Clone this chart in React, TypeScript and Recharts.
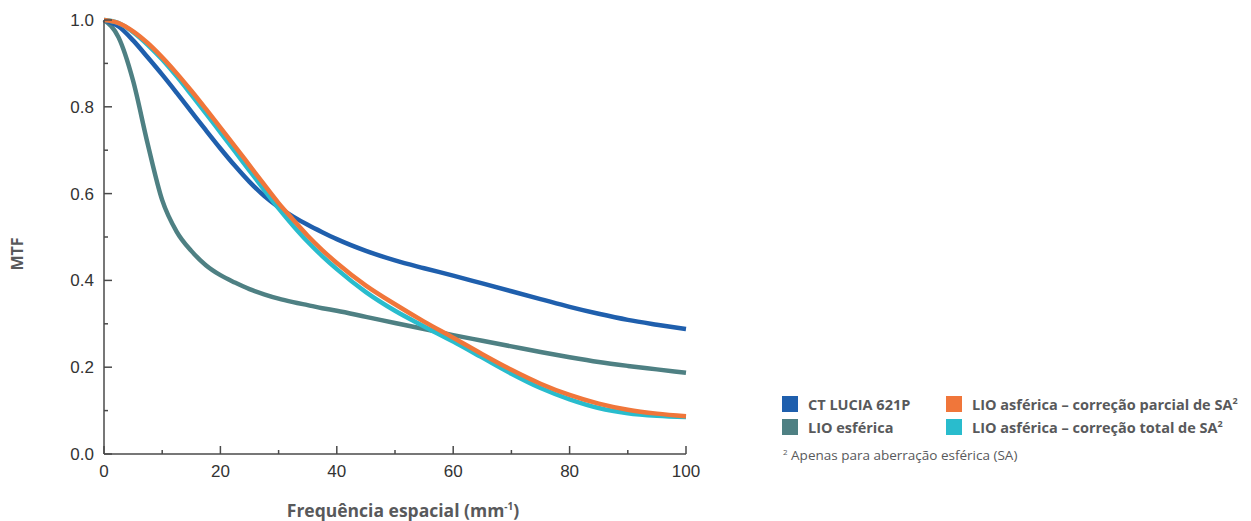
import React from "react";
import { LineChart, Line, XAxis, YAxis } from "recharts";

const freq = [0, 2.5, 5, 7.5, 10, 12.5, 15, 17.5, 20, 22.5, 25, 27.5, 30, 32.5, 35, 37.5, 40, 45, 50, 55, 60, 65, 70, 75, 80, 85, 90, 95, 100];

const ctLucia = [1.0, 0.985, 0.953, 0.914, 0.874, 0.832, 0.789, 0.746, 0.704, 0.664, 0.627, 0.595, 0.569, 0.547, 0.528, 0.511, 0.495, 0.468, 0.446, 0.428, 0.411, 0.393, 0.375, 0.357, 0.339, 0.323, 0.309, 0.298, 0.288];
const lioEsferica = [1.0, 0.96, 0.86, 0.715, 0.585, 0.512, 0.468, 0.435, 0.412, 0.395, 0.38, 0.368, 0.358, 0.35, 0.343, 0.336, 0.33, 0.316, 0.302, 0.288, 0.274, 0.261, 0.248, 0.235, 0.223, 0.212, 0.203, 0.195, 0.187];
const parcialSA = [1.0, 0.993, 0.974, 0.947, 0.914, 0.877, 0.837, 0.795, 0.752, 0.709, 0.665, 0.621, 0.578, 0.54, 0.503, 0.47, 0.44, 0.388, 0.345, 0.305, 0.268, 0.23, 0.194, 0.162, 0.136, 0.116, 0.102, 0.093, 0.087];
const totalSA = [1.0, 0.993, 0.972, 0.943, 0.909, 0.87, 0.828, 0.785, 0.741, 0.697, 0.653, 0.609, 0.566, 0.526, 0.489, 0.456, 0.426, 0.373, 0.33, 0.294, 0.259, 0.222, 0.185, 0.152, 0.126, 0.106, 0.094, 0.088, 0.085];

const xTicks = [0, 10, 20, 30, 40, 50, 60, 70, 80, 90, 100];
const yTicks = [0, 0.1, 0.2, 0.3, 0.4, 0.5, 0.6, 0.7, 0.8, 0.9, 1.0];

const COLORS = {
  ct: "#1f5fad",
  esf: "#4e8083",
  parcial: "#f0763a",
  total: "#29bccd",
  axis: "#4a4a4a",
  tickText: "#333333",
  label: "#58595b",
};

const data = freq.map((x, i) => ({
  x,
  ct: ctLucia[i],
  esf: lioEsferica[i],
  parcial: parcialSA[i],
  total: totalSA[i],
}));

const tickFont = { fontFamily: "'Liberation Sans', Arial, sans-serif", fontSize: 17 };
const labelFont = "'Open Sans', 'Noto Sans', sans-serif";

function XTick(props: any) {
  const { x, y, payload } = props;
  const major = payload.value % 20 === 0;
  return (
    <g>
      <line x1={x} y1={y} x2={x} y2={y - (major ? 8 : 4)} stroke={COLORS.axis} strokeWidth={1.5} />
      {major && (
        <text x={x} y={y + 11} dy="0.71em" textAnchor="middle" fill={COLORS.tickText} style={tickFont}>
          {payload.value}
        </text>
      )}
    </g>
  );
}

function YTick(props: any) {
  const { x, y, payload } = props;
  const major = Math.round(payload.value * 10) % 2 === 0;
  return (
    <g>
      <line x1={x} y1={y} x2={x + (major ? 8 : 4)} y2={y} stroke={COLORS.axis} strokeWidth={1.5} />
      {major && (
        <text x={x - 10} y={y} dy="0.355em" textAnchor="end" fill={COLORS.tickText} style={tickFont}>
          {payload.value.toFixed(1)}
        </text>
      )}
    </g>
  );
}

const legendItems = [
  { color: COLORS.ct, label: "CT LUCIA 621P", sup: false, left: 774, top: 387 },
  { color: COLORS.parcial, label: "LIO asférica – correção parcial de SA", sup: true, left: 938, top: 387 },
  { color: COLORS.esf, label: "LIO esférica", sup: false, left: 774, top: 410 },
  { color: COLORS.total, label: "LIO asférica – correção total de SA", sup: true, left: 938, top: 410 },
];

export default function App() {
  return (
    <div style={{ position: "relative", width: 1235, height: 513 }}>
      <LineChart
        width={1235}
        height={505}
        data={data}
        margin={{ top: 12, right: 557, left: 46, bottom: 29 }}
      >
        <XAxis
          type="number"
          dataKey="x"
          domain={[0, 100]}
          ticks={xTicks}
          interval={0}
          tickLine={false}
          tickSize={0}
          tickMargin={0}
          height={30}
          axisLine={{ stroke: COLORS.axis, strokeWidth: 1.5 }}
          tick={<XTick />}
        />
        <YAxis
          type="number"
          domain={[0, 1]}
          ticks={yTicks}
          interval={0}
          tickLine={false}
          tickSize={0}
          tickMargin={0}
          width={50}
          axisLine={{ stroke: COLORS.axis, strokeWidth: 1.5 }}
          tick={<YTick />}
        />
        <Line type="monotone" dataKey="esf" stroke={COLORS.esf} strokeWidth={4.5} dot={false} isAnimationActive={false} />
        <Line type="monotone" dataKey="ct" stroke={COLORS.ct} strokeWidth={4.5} dot={false} isAnimationActive={false} />
        <Line type="monotone" dataKey="total" stroke={COLORS.total} strokeWidth={4.5} dot={false} isAnimationActive={false} />
        <Line type="monotone" dataKey="parcial" stroke={COLORS.parcial} strokeWidth={4.5} dot={false} isAnimationActive={false} />
      </LineChart>

      {/* axis titles */}
      <div
        style={{
          position: "absolute",
          left: 9,
          top: 246,
          transform: "translate(-50%, -50%) rotate(-90deg)",
          fontFamily: labelFont,
          fontWeight: 700,
          fontSize: 16,
          lineHeight: "20px",
          color: COLORS.label,
          whiteSpace: "nowrap",
        }}
      >
        MTF
      </div>
      <div
        style={{
          position: "absolute",
          left: 395,
          top: 490,
          transform: "translateX(-50%)",
          fontFamily: labelFont,
          fontWeight: 700,
          fontSize: 17.5,
          lineHeight: "24px",
          color: COLORS.label,
          whiteSpace: "nowrap",
        }}
      >
        Frequência espacial (mm<span style={{ fontSize: 10, position: "relative", top: -7 }}>-1</span>)
      </div>

      {/* legend */}
      {legendItems.map((item) => (
        <div
          key={item.label}
          style={{
            position: "absolute",
            left: item.left,
            top: item.top,
            display: "flex",
            alignItems: "center",
            fontFamily: labelFont,
            fontWeight: 700,
            fontSize: 14.5,
            color: COLORS.label,
            whiteSpace: "nowrap",
            height: 18,
          }}
        >
          <span style={{ display: "inline-block", width: 16, height: 16, background: item.color, marginRight: 10 }} />
          <span>
            {item.label}
            {item.sup && <span style={{ fontSize: 9, position: "relative", top: -6 }}>2</span>}
          </span>
        </div>
      ))}
      <div
        style={{
          position: "absolute",
          left: 775,
          top: 438,
          fontFamily: labelFont,
          fontSize: 13.5,
          lineHeight: "18px",
          color: COLORS.label,
          whiteSpace: "nowrap",
        }}
      >
        <span style={{ fontSize: 8, position: "relative", top: -5 }}>2</span> Apenas para aberração esférica (SA)
      </div>
    </div>
  );
}
